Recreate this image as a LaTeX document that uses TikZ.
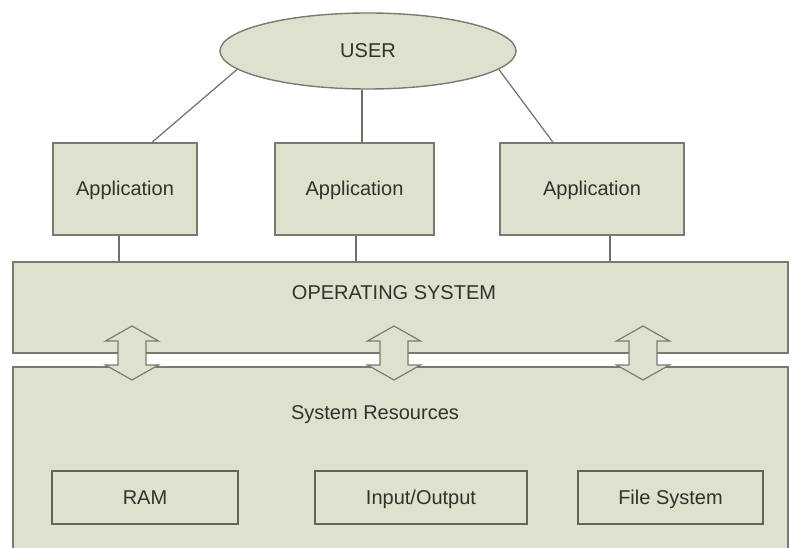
\documentclass[tikz,border=0pt]{standalone}
\usepackage{fontspec}
\setmainfont{Liberation Sans}
\usetikzlibrary{shapes.geometric}
\definecolor{boxfill}{RGB}{221,225,205}
\definecolor{boxline}{RGB}{120,124,112}
\definecolor{innerline}{RGB}{95,102,82}
\definecolor{txt}{RGB}{48,50,45}
\definecolor{wirecol}{RGB}{110,112,106}
\begin{document}
\begin{tikzpicture}[x=1pt,y=-1pt,
  every node/.style={font=\fontsize{20}{24}\selectfont, text=txt, text height=14pt, text depth=0pt},
  shell/.style={draw=boxline, line width=1.4pt, fill=boxfill, inner sep=0pt},
  appbox/.style={shell, rectangle, minimum height=92pt},
  innerbox/.style={draw=innerline, line width=1.4pt, fill=boxfill, rectangle, minimum height=53pt, inner sep=0pt},
  wire/.style={draw=wirecol, line width=1.2pt},
  dblarrow/.style={draw=boxline, line width=1.2pt, fill=boxfill, line join=miter},
  dblarr/.pic={\path[dblarrow] (0,-27) -- (26.5,-12) -- (14,-12) -- (14,12) -- (26.5,12) -- (0,27)
      -- (-26.5,12) -- (-14,12) -- (-14,-12) -- (-26.5,-12) -- cycle;}]
\fill[white] (0,0) rectangle (795,548);
\useasboundingbox (0,0) rectangle (795,548);

% top
\node[shell, ellipse, minimum width=296pt, minimum height=76pt] (user) at (368,51) {USER};
\node[appbox, minimum width=144pt] (app1) at (125,189) {Application};
\node[appbox, minimum width=159pt] (app2) at (354.5,189) {Application};
\node[appbox, minimum width=184pt] (app3) at (592,189) {Application};

% layers
\node[shell, rectangle, minimum width=775pt, minimum height=91pt] (os) at (400.5,307.5) {};
\node (oslabel) at (394,292) {OPERATING SYSTEM};
\node[shell, rectangle, minimum width=775pt, minimum height=185pt] (res) at (400.5,459.5) {};
\node (reslabel) at (375,412) {System Resources};
\node[innerbox, minimum width=186pt] (ram) at (145,497.5) {RAM};
\node[innerbox, minimum width=212pt] (io) at (421,497.5) {Input/Output};
\node[innerbox, minimum width=185pt] (fs) at (670.5,497.5) {File System};

% connectors
\draw[wire] (user.188) -- ([xshift=27pt]app1.north);
\draw[wire] ([xshift=7.5pt]app2.north |- user.south) -- ([xshift=7.5pt]app2.north);
\draw[wire] (user.352) -- ([xshift=-39pt]app3.north);
\draw[wire] ([xshift=-6pt]app1.south) -- ([xshift=-6pt]app1.south |- os.north);
\draw[wire] ([xshift=1.5pt]app2.south) -- ([xshift=1.5pt]app2.south |- os.north);
\draw[wire] ([xshift=18pt]app3.south) -- ([xshift=18pt]app3.south |- os.north);

% double arrows between OS and resources
\pic at (132,353) {dblarr};
\pic at (394,353) {dblarr};
\pic at (643,353) {dblarr};
\end{tikzpicture}
\end{document}
